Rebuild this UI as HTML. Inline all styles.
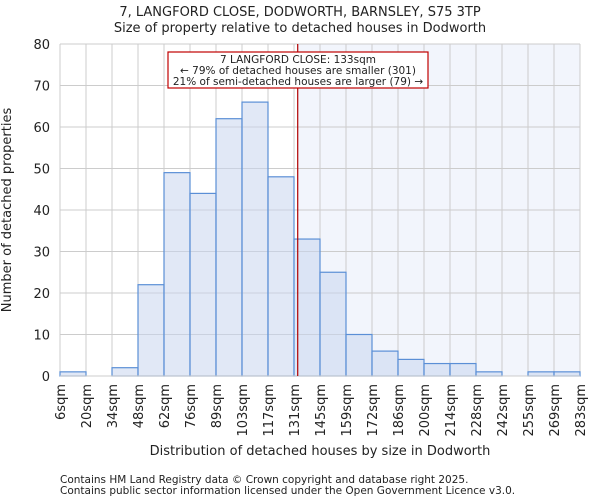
<!DOCTYPE html>
<html><head><meta charset="utf-8"><style>
body{margin:0;background:#fff;font-family:"DejaVu Sans","Liberation Sans",sans-serif;}
svg text{font-family:"DejaVu Sans","Liberation Sans",sans-serif;fill:#222;}
</style></head><body>
<svg id="chart" width="600" height="500" viewBox="0 0 600 500">
<text x="300" y="16" font-size="13" text-anchor="middle">7, LANGFORD CLOSE, DODWORTH, BARNSLEY, S75 3TP</text>
<text x="300" y="32" font-size="13" text-anchor="middle">Size of property relative to detached houses in Dodworth</text>
<g id="grid"></g><g id="bars"></g><g id="axes"></g>
<text transform="translate(11,210) rotate(-90)" font-size="13" text-anchor="middle">Number of detached properties</text>
<text x="320" y="455" font-size="13" text-anchor="middle">Distribution of detached houses by size in Dodworth</text>
<text x="60" y="483" font-size="10.5" fill="#444">Contains HM Land Registry data © Crown copyright and database right 2025.</text>
<text x="60" y="494" font-size="10.5" fill="#444">Contains public sector information licensed under the Open Government Licence v3.0.</text>
</svg>
<script>
const binLabels=["6sqm","20sqm","34sqm","48sqm","62sqm","76sqm","89sqm","103sqm","117sqm","131sqm","145sqm","159sqm","172sqm","186sqm","200sqm","214sqm","228sqm","242sqm","255sqm","269sqm","283sqm"];
const binEdges=[6,20,34,48,62,76,89,103,117,131,145,159,172,186,200,214,228,242,255,269,283];
const counts=[1,0,2,22,49,44,62,66,48,33,25,10,6,4,3,3,1,0,1,1];
const yTicks=[0,10,20,30,40,50,60,70,80];
const propertySize=133;
const annotationLines=["7 LANGFORD CLOSE: 133sqm","← 79% of detached houses are smaller (301)","21% of semi-detached houses are larger (79) →"];
const NS="http://www.w3.org/2000/svg";
const X0=60,X1=580,Y0=376,Y1=44,YMAX=80;
const n=counts.length,bw=(X1-X0)/n;
function xi(i){return X0+i*bw;}
function xv(v){let i=0;while(i<n-1&&v>binEdges[i+1])i++;return xi(i)+(v-binEdges[i])/(binEdges[i+1]-binEdges[i])*bw;}
function y(v){return Y0-(v/YMAX)*(Y0-Y1);}
function mk(p,t,a){const e=document.createElementNS(NS,t);for(const k in a)e.setAttribute(k,a[k]);p.appendChild(e);return e;}
const grid=document.getElementById('grid'),bars=document.getElementById('bars'),axes=document.getElementById('axes');
const px=xv(propertySize);
const sh=mk(grid,'rect',{x:px,y:Y1,width:X1-px,height:Y0-Y1,fill:'#f2f5fc'});


yTicks.forEach(t=>{
 const l=mk(grid,'line',{x1:X0,x2:X1,y1:y(t),y2:y(t),stroke:'#cccccc','stroke-width':1});
 
 
 const tx=mk(axes,'text',{x:X0-10,y:y(t)+5,'font-size':13,'text-anchor':'end'});
 tx.textContent=t;
 
 
});
binLabels.forEach((lb,i)=>{
 const l=mk(grid,'line',{x1:xi(i),x2:xi(i),y1:Y1,y2:Y0,stroke:'#cccccc','stroke-width':1});
 
 
 const tx=mk(axes,'text',{transform:`translate(${xi(i)+5},${Y0+8}) rotate(-90)`,'font-size':13,'text-anchor':'end'});
 tx.textContent=lb;
 
 
});
counts.forEach((c,i)=>{
 if(c<=0)return;
 const r=mk(bars,'rect',{x:xi(i),y:y(c),width:bw,height:Y0-y(c),fill:'rgba(200,214,238,0.55)',stroke:'#5b8fd6','stroke-width':1.2});
 
 
});
const ax=mk(axes,'line',{x1:X0,x2:X1,y1:Y0,y2:Y0,stroke:'#cccccc','stroke-width':1});


const ml=mk(axes,'line',{x1:px,x2:px,y1:Y1,y2:Y0,stroke:'#b00000','stroke-width':1.2});


const bx=mk(axes,'rect',{x:168,y:52,width:260,height:36,fill:'#fff',stroke:'#c00000','stroke-width':1.2});


annotationLines.forEach((s,i)=>{
 const t=mk(axes,'text',{x:298,y:63+i*11,'font-size':10.5,'text-anchor':'middle'});
 t.textContent=s;
 
 
});
</script>
</body></html>
